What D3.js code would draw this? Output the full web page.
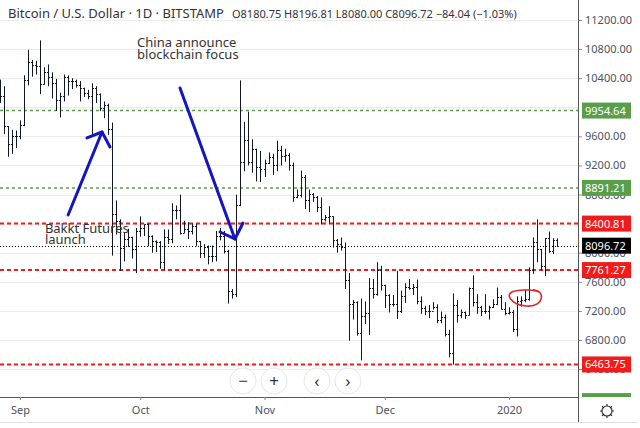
<!DOCTYPE html>
<html>
<head>
<meta charset="utf-8">
<script src="https://d3js.org/d3.v7.min.js"></script>
<style>
  body { margin: 0; background: #fff; }
  text { font-family: "Noto Sans", sans-serif; }
</style>
</head>
<body>
<svg width="640" height="428"></svg>
<script>
// daily OHLC, Bitstamp BTC/USD, 27 Aug 2019 .. 13 Jan 2020
var firstDay = "2019-08-27", lastDay = "2020-01-13";
var opens = [10140,10160,9740,9490,9600, 9600,9760,10380,10620,10580,10570,10320,10480,10410,10330,10100,10150,10420,10360,10360,10310,10260,10190,10160,10270,10180,9990,10030,9700,8530,8430,8060,8190,8210,8050,
  8300,8340,8390,8230,8160,8150,7870,8210,8190,8590,8590,8270,8330,8300,8370,8160,8000,8080,7960,7960,8230,8230,8030,7470,7430,8660,9250,9550,9250,9430,9180,
  9150,9240,9310,9200,9410,9330,9340,9200,8770,8800,9040,8720,8810,8760,8630,8460,8490,8500,8170,8120,8080,7620,7290,7320,6900,7130,7170,7520,7430,7760,
  7560,7420,7300,7300,7200,7400,7530,7510,7530,7340,7240,7200,7200,7260,7070,7120,6880,6620,7280,7150,7190,7150,7510,7320,7250,7200,7200,7250,7300,7390,7220,
  7170,7180,6950,7340,7350,7360,7760,8150,8050,7820,8200,8020,8180.75];
var highs = [10380,10290,9740,9690,9680, 9820,10440,10790,10650,10640,10920,10550,10590,10480,10390,10200,10450,10440,10400,10380,10360,10270,10240,10330,10290,10190,10080,10050,9790,8720,8460,8270,8330,8220,8340,
  8500,8390,8400,8240,8170,8160,8320,8320,8680,8650,8800,8440,8420,8400,8400,8160,8120,8100,8100,8300,8340,8300,8040,7500,8800,10370,9800,9940,9560,9430,9400,
  9280,9380,9360,9540,9470,9430,9370,9240,8870,9130,9070,8870,8820,8780,8760,8520,8640,8500,8190,8210,8140,7720,7350,7330,7370,7330,7650,7640,7870,7820,
  7560,7430,7420,7750,7480,7580,7640,7570,7630,7400,7270,7280,7320,7290,7190,7150,6940,7440,7350,7220,7190,7520,7690,7430,7270,7430,7270,7360,7520,7420,7320,
  7250,7210,7400,7400,7490,7800,8210,8460,8050,8200,8290,8200,8196.81];
var lows = [10060,9630,9320,9360,9440, 9560,9740,10300,10420,10450,10180,10310,10290,10120,9950,9860,10080,10160,10250,10270,10080,10140,10110,9610,10060,9950,9850,9620,7960,8250,7750,7880,8080,7920,7720,
  8220,8230,8090,8000,8010,7780,7760,8120,8130,8460,8250,8270,8190,8250,8090,7930,7930,7840,7870,7880,8170,7990,7300,7370,7390,8640,9120,9200,9100,8980,8970,
  9040,9220,9070,9120,9200,9250,9130,8700,8750,8760,8600,8560,8700,8560,8390,8430,8400,8070,8000,8030,7500,6790,7080,6860,6520,7020,6870,7370,7410,7480,
  7240,7180,7260,7090,7170,7310,7490,7420,7290,7160,7140,7100,7220,7030,7030,6850,6560,6460,7040,7100,7090,7140,7260,7160,7130,7160,7080,7240,7280,7220,7140,
  7150,6910,6850,7260,7320,7340,7710,7870,7760,7680,8000,7980,8080.00];
var closes = [10160,9740,9490,9600,9600, 9760,10380,10620,10580,10570,10320,10480,10410,10330,10100,10150,10420,10360,10360,10310,10260,10190,10160,10270,10180,9990,10030,9700,8530,8430,8060,8190,8210,8050,8300,
  8340,8390,8230,8160,8150,7870,8210,8190,8590,8590,8270,8330,8300,8370,8160,8000,8080,7960,7960,8230,8230,8030,7470,7430,8660,9250,9550,9250,9430,9180,9150,
  9240,9310,9200,9410,9330,9340,9200,8770,8800,9040,8720,8810,8760,8630,8460,8490,8500,8170,8120,8080,7620,7290,7320,6900,7130,7170,7520,7430,7760,7560,
  7420,7300,7300,7200,7400,7530,7510,7530,7340,7240,7200,7200,7260,7070,7120,6880,6620,7280,7150,7190,7150,7510,7320,7250,7200,7200,7250,7300,7390,7220,7170,
  7180,6950,7340,7350,7360,7760,8150,8050,7820,8200,8020,8180,8096.72];

var gridTicks = [11200,10800,10400,10000,9600,9200,8800,8400,8000,7600,7200,6800,6400,6000];
var priceTicks = [11200,10800,10400,9600,9200,8800,8000,7600,7200,6800,6400];
var monthTicks = ["2019-09-01","2019-10-01","2019-11-01","2019-12-01","2020-01-01"];
var monthLabels = ["Sep","Oct","Nov","Dec","2020"];

var levelValues = [9954.64, 8891.21, 8400.81, 7761.27, 6463.75, 5960];
var levelKinds  = ["green","green","red","red","red","green"];
var lastPrice = 8096.72;

var header = "Bitcoin / U.S. Dollar \u00b7 1D \u00b7 BITSTAMP";
var ohlcText = "O8180.75  H8196.81  L8080.00  C8096.72  \u221284.04 (\u22121.03%)";

var parse = d3.utcParse("%Y-%m-%d");
var parseH = d3.utcParse("%Y-%m-%dT%H");
var days = d3.utcDay.range(parse(firstDay), d3.utcDay.offset(parse(lastDay), 1));

var svg = d3.select("svg");
var plotW = 578, plotH = 397;

var x = d3.scaleUtc().domain([parse("2019-09-01"), parse("2020-01-01")]).range([20, 509]);
var y = d3.scaleLinear().domain([6800, 11200]).range([340, 20]);

var colors = { green: "#5b9e4a", red: "#f21b1b", ink: "#131722", grid: "#ececec", text: "#4c525e" };

svg.append("defs").append("clipPath").attr("id", "plot")
  .append("rect").attr("width", plotW).attr("height", plotH);

// grid
svg.append("g").selectAll("line").data(gridTicks).enter().append("line")
  .attr("x1", 0).attr("x2", plotW)
  .attr("y1", function(d) { return Math.round(y(d)) + 0.5; })
  .attr("y2", function(d) { return Math.round(y(d)) + 0.5; })
  .attr("stroke", colors.grid);

var plot = svg.append("g").attr("clip-path", "url(#plot)");

// level lines
plot.selectAll(".lvl").data(levelValues).enter().append("line")
  .attr("x1", 0).attr("x2", plotW)
  .attr("y1", function(d) { return y(d); }).attr("y2", function(d) { return y(d); })
  .attr("stroke", function(d, i) { return colors[levelKinds[i]]; })
  .attr("stroke-width", function(d, i) { return levelKinds[i] == "red" ? 2 : 1.5; })
  .attr("stroke-dasharray", function(d, i) { return levelKinds[i] == "red" ? "4,3" : "3,3"; });

plot.append("line").attr("x1", 0).attr("x2", plotW)
  .attr("y1", Math.round(y(lastPrice)) + 0.5).attr("y2", Math.round(y(lastPrice)) + 0.5)
  .attr("stroke", "#000").attr("stroke-dasharray", "1,2");

// OHLC bars
var bars = plot.append("g").attr("stroke", colors.ink).attr("stroke-width", 1);
days.forEach(function(d, i) {
  var cx = Math.round(x(d)) + 0.5;
  bars.append("line").attr("x1", cx).attr("x2", cx).attr("y1", y(highs[i])).attr("y2", y(lows[i]));
  bars.append("line").attr("x1", cx - 1.5).attr("x2", cx).attr("y1", Math.round(y(opens[i])) + 0.5).attr("y2", Math.round(y(opens[i])) + 0.5);
  bars.append("line").attr("x1", cx).attr("x2", cx + 1.5).attr("y1", Math.round(y(closes[i])) + 0.5).attr("y2", Math.round(y(closes[i])) + 0.5);
});

// annotations
var blue = "#1414c0";
function pt(s, p) { return [x(parseH(s)), y(p)]; }
var arrows = [
  [pt("2019-09-13T00", 8519), pt("2019-09-21T11", 9660)],
  [pt("2019-09-17T17", 9578), pt("2019-09-21T11", 9660), pt("2019-09-23T11", 9454)],
  [pt("2019-10-10T22", 10265), pt("2019-10-24T15", 8189)],
  [pt("2019-10-20T22", 8285), pt("2019-10-24T15", 8189), pt("2019-10-26T15", 8409)]
];
plot.selectAll(".arrow").data(arrows).enter().append("path")
  .attr("d", d3.line()).attr("fill", "none")
  .attr("stroke", blue).attr("stroke-width", 3).attr("stroke-linejoin", "round").attr("stroke-linecap", "round");

var note1 = plot.append("text").attr("x", x(parseH("2019-09-30T05"))).attr("y", y(10829))
  .attr("font-size", 13).attr("fill", "#333");
note1.append("tspan").text("China announce");
note1.append("tspan").attr("x", x(parseH("2019-09-30T05"))).attr("dy", 12).text("blockchain focus");

var note2 = plot.append("text").attr("x", x(parseH("2019-09-07T05"))).attr("y", y(8271))
  .attr("font-size", 13).attr("fill", "#333");
note2.append("tspan").text("Bakkt Futures");
note2.append("tspan").attr("x", x(parseH("2019-09-07T05"))).attr("dy", 11).text("launch");

var ec = pt("2020-01-05T00", 7377);
plot.append("path")
  .attr("d", "M" + (ec[0] + 8) + "," + (ec[1] - 8) +
    " C" + (ec[0] + 20) + "," + (ec[1] - 9) + " " + (ec[0] + 20) + "," + (ec[1] + 9) + " " + (ec[0] + 2) + "," + (ec[1] + 8) +
    " C" + (ec[0] - 14) + "," + (ec[1] + 7) + " " + (ec[0] - 22) + "," + (ec[1] - 5) + " " + (ec[0] - 10) + "," + (ec[1] - 7) +
    " C" + (ec[0] - 2) + "," + (ec[1] - 9) + " " + (ec[0] + 10) + "," + (ec[1] - 8) + " " + (ec[0] + 14) + "," + (ec[1] - 6))
  .attr("fill", "none").attr("stroke", "#e0262b").attr("stroke-width", 1.6);

// navigation buttons
var btns = [["\u2212", 243], ["+", 274], ["\u2039", 317], ["\u203a", 348]];
var bg = svg.append("g");
btns.forEach(function(b) {
  bg.append("circle").attr("cx", b[1]).attr("cy", 381).attr("r", 13)
    .attr("fill", "#fff").attr("stroke", "#e6e6e6");
  bg.append("text").attr("x", b[1]).attr("y", 387).attr("text-anchor", "middle")
    .attr("font-size", 17).attr("fill", "#333").text(b[0]);
});

// price axis
var axisG = svg.append("g").attr("transform", "translate(" + plotW + ",0)");
axisG.append("rect").attr("width", 62).attr("height", 422).attr("fill", "#fff");
axisG.call(d3.axisRight(y).tickValues(priceTicks).tickSize(4).tickFormat(d3.format(".2f")));
axisG.select(".domain").attr("d", "M0.5,0V422").attr("stroke", "#555");
axisG.selectAll(".tick line").attr("stroke", "#888");
axisG.selectAll(".tick text").attr("font-size", 11).attr("fill", colors.text).attr("x", 7)
  .style("font-family", "'Noto Sans', sans-serif");

var labelData = levelValues.map(function(v, i) { return { v: v, c: colors[levelKinds[i]] }; });
labelData.push({ v: lastPrice, c: "#000" });
var lab = axisG.append("g").selectAll("g").data(labelData).enter().append("g")
  .attr("transform", function(d) { return "translate(4," + y(d.v) + ")"; });
lab.append("rect").attr("x", 0).attr("y", -8).attr("width", 49).attr("height", 16)
  .attr("fill", function(d) { return d.c; });
lab.filter(function(d) { return y(d.v) < plotH; })
  .append("text").attr("x", 3).attr("y", 4).attr("font-size", 11).attr("fill", "#fff")
  .text(function(d) { return d.v.toFixed(2); });
// the bottom level label is cut off by the time axis
axisG.append("rect").attr("y", plotH).attr("width", 62).attr("height", 31).attr("fill", "#fff");
axisG.append("line").attr("x1", 0.5).attr("x2", 0.5).attr("y1", 0).attr("y2", 422).attr("stroke", "#555");

// time axis
var timeG = svg.append("g").attr("transform", "translate(0," + plotH + ")");
timeG.append("rect").attr("width", plotW).attr("height", 25).attr("fill", "#fff");
timeG.call(d3.axisBottom(x).tickValues(monthTicks.map(parse)).tickSize(3)
  .tickFormat(function(d, i) { return monthLabels[i]; }));
timeG.select(".domain").attr("d", "M0," + 0.5 + "H" + plotW).attr("stroke", "#555");
timeG.selectAll(".tick line").attr("stroke", "#888");
timeG.selectAll(".tick text").attr("font-size", 11).attr("fill", colors.text).attr("y", 9)
  .style("font-family", "'Noto Sans', sans-serif");
svg.append("line").attr("x1", 0).attr("x2", 638).attr("y1", 422.5).attr("y2", 422.5).attr("stroke", "#e0e0e0");

// settings gear
var gear = svg.append("g").attr("transform", "translate(607,411)")
  .attr("fill", "none").attr("stroke", "#333").attr("stroke-width", 1.2);
gear.append("circle").attr("r", 5);
d3.range(8).forEach(function(k) {
  var a = k * Math.PI / 4;
  gear.append("line").attr("x1", 5 * Math.cos(a)).attr("y1", 5 * Math.sin(a))
    .attr("x2", 7 * Math.cos(a)).attr("y2", 7 * Math.sin(a));
});

// header
var head = svg.append("text").attr("x", 8).attr("y", 18).attr("fill", "#333");
head.append("tspan").attr("font-size", 13).text(header);
head.append("tspan").attr("font-size", 11).attr("dx", 8).text(ohlcText);
</script>
</body>
</html>
